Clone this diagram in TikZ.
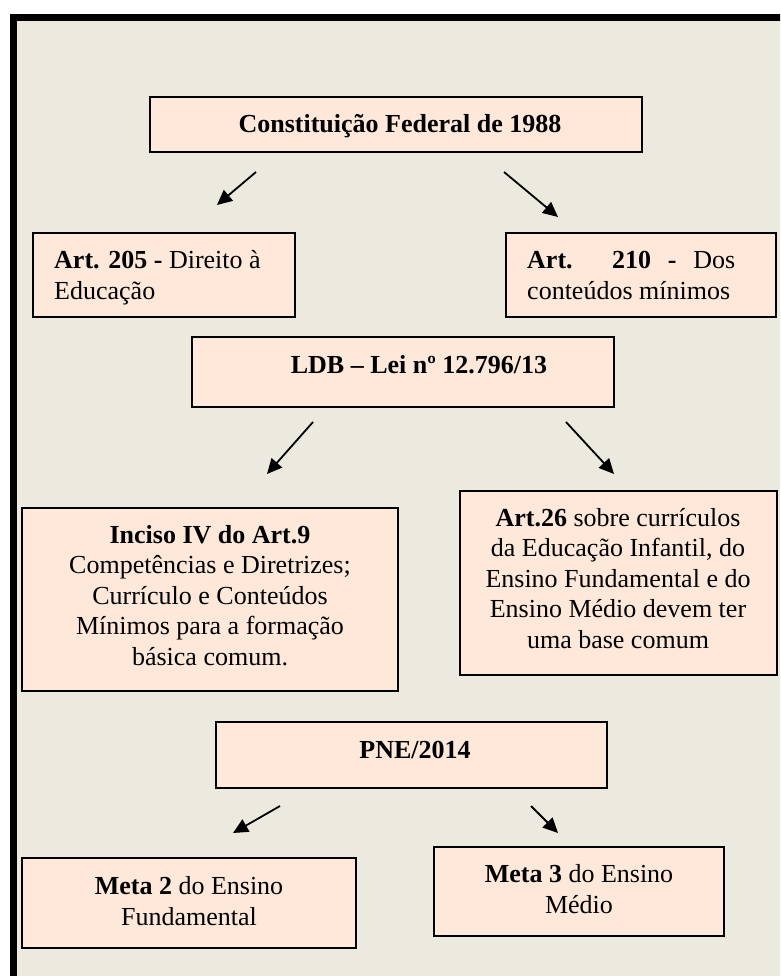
\documentclass[tikz,border=0pt]{standalone}
\usepackage{fontspec}
\setmainfont{Liberation Serif}
\usetikzlibrary{arrows.meta}
\definecolor{bgc}{HTML}{ECE9DF}
\definecolor{boxc}{HTML}{FDE8DA}
\begin{document}
\begin{tikzpicture}[x=1pt,y=-1pt,
  box/.style={draw=black, line width=1.5pt, fill=boxc, inner sep=0pt},
  txt/.style={inner sep=0pt, font=\fontsize{26}{30.5}\selectfont, align=center, anchor=base},
  ltxt/.style={txt, align=left, anchor=base west},
  arr/.style={line width=1.8pt, -{Triangle[length=15pt,width=14pt]}}]
\useasboundingbox (0,0) rectangle (780,976);
\clip (0,0) rectangle (780,976);
\fill[white] (0,0) rectangle (780,976);
\fill[bgc] (13.5,17.5) rectangle (800,1000);
\draw[line width=7pt] (13.5,1000) -- (13.5,17.5) -- (800,17.5);

% boxes
\node[box, minimum width=492pt, minimum height=55pt] (cf) at (396,124.5) {};
\node[box, minimum width=262pt, minimum height=84pt] (a205) at (164,275) {};
\node[box, minimum width=270pt, minimum height=84pt] (a210) at (641,275) {};
\node[box, minimum width=422pt, minimum height=70pt] (ldb) at (403,372) {};
\node[box, minimum width=376pt, minimum height=183pt] (inc) at (210,599.5) {};
\node[box, minimum width=317pt, minimum height=184pt] (a26) at (618.5,583) {};
\node[box, minimum width=391pt, minimum height=66pt] (pne) at (411.5,755) {};
\node[box, minimum width=334pt, minimum height=90pt] (m2) at (189,903) {};
\node[box, minimum width=290pt, minimum height=89pt] (m3) at (579,891.5) {};

% texts (anchor = baseline of the last line)
\node[txt] (cfT) at (400,133) {\textbf{Constituição Federal de 1988}};
\node[ltxt] (a205T) at (54,299) {\textbf{Art. 205 -} Direito à\\Educação};
\node[ltxt] (a210T) at (527,299) {\makebox[208pt][s]{\textbf{Art.} \textbf{210} \textbf{-} Dos}\\conteúdos mínimos};
\node[txt] (ldbT) at (419,373) {\textbf{LDB – Lei nº 12.796/13}};
\node[txt] (incT) at (210,665) {\textbf{Inciso IV do Art.9}\\Competências e Diretrizes;\\Currículo e Conteúdos\\Mínimos para a formação\\básica comum.};
\node[txt] (a26T) at (618,648) {\textbf{Art.26} sobre currículos\\da Educação Infantil, do\\Ensino Fundamental e do\\Ensino Médio devem ter\\uma base comum};
\node[txt] (pneT) at (415,758) {\textbf{PNE/2014}};
\node[txt] (m2T) at (189,925) {\textbf{Meta 2} do Ensino\\Fundamental};
\node[txt] (m3T) at (579,913) {\textbf{Meta 3} do Ensino\\Médio};

% arrows
\coordinate (a1s) at (256,172); \coordinate (a1e) at (217,205);
\coordinate (a2s) at (504,172); \coordinate (a2e) at (558,217);
\coordinate (a3s) at (313,422); \coordinate (a3e) at (267,474);
\coordinate (a4s) at (566,422); \coordinate (a4e) at (614,474);
\coordinate (a5s) at (280,806); \coordinate (a5e) at (233,833);
\coordinate (a6s) at (531,806); \coordinate (a6e) at (558,833);
\draw[arr] (a1s) -- (a1e);
\draw[arr] (a2s) -- (a2e);
\draw[arr] (a3s) -- (a3e);
\draw[arr] (a4s) -- (a4e);
\draw[arr] (a5s) -- (a5e);
\draw[arr] (a6s) -- (a6e);
\end{tikzpicture}
\end{document}
